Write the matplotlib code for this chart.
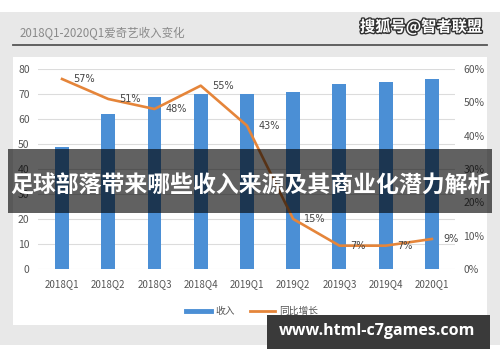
import matplotlib
matplotlib.use("Agg")
import matplotlib.pyplot as plt
import matplotlib.patheffects as pe
from matplotlib.patches import Rectangle
from matplotlib.lines import Line2D
import numpy as np

plt.rcParams['font.family'] = ['Noto Sans CJK SC', 'DejaVu Sans']

# data
quarters = ['2018Q1', '2018Q2', '2018Q3', '2018Q4', '2019Q1',
            '2019Q2', '2019Q3', '2019Q4', '2020Q1']
revenue = [49, 62, 69, 70, 70, 71, 74, 75, 76]
growth = [57, 51, 48, 55, 43, 15, 7, 7, 9]
growth_labels = ['57%', '51%', '48%', '55%', '43%', '15%', '7%', '7%', '9%']
left_ticks = [0, 10, 20, 30, 40, 50, 60, 70, 80]
right_ticks = [0, 10, 20, 30, 40, 50, 60]

W, H = 500, 362
fig = plt.figure(figsize=(5, 3.62), dpi=100)
fig.patch.set_facecolor('white')

def fx(x):
    return x / W

def fy(y):
    return 1 - y / H

# screenshot background: gray frame, white chart panel
fig.patches.append(Rectangle((0, fy(345)), 1, (345 - 12) / H, transform=fig.transFigure,
                             facecolor='#e8e8e8', edgecolor='none', zorder=-10))
fig.patches.append(Rectangle((fx(13), fy(325)), (487 - 13) / W, (325 - 57) / H,
                             transform=fig.transFigure, facecolor='white',
                             edgecolor='none', zorder=-9))
fig.lines.append(Line2D([fx(13), fx(487)], [fy(45), fy(45)], transform=fig.transFigure,
                        color='#555555', lw=1.3, zorder=-8))
fig.text(fx(20), fy(33), '2018Q1-2020Q1爱奇艺收入变化', fontsize=8.3, color='#8a8a8a',
         ha='left', va='center')

ax = fig.add_axes([fx(38), fy(269), (455 - 38) / W, 200 / H])
ax.set_facecolor('none')
x = np.arange(len(quarters))
ax.bar(x, revenue, width=0.3, color='#4b8fd5', zorder=2)
ax.set_xlim(-0.52, 8.5)
ax.set_ylim(0, 80)
ax.set_yticks(left_ticks)
ax.set_xticks(x)
ax.set_xticklabels(quarters)
ax.grid(axis='y', color='#dcdcdc', lw=0.8, zorder=0)
ax.tick_params(axis='y', length=0, pad=6, labelsize=7.5, labelcolor='#555555')
ax.tick_params(axis='x', length=0, pad=7, labelsize=7, labelcolor='#555555')
for s in ax.spines.values():
    s.set_visible(False)

ax2 = ax.twinx()
ax2.plot(x, growth, color='#e5853a', lw=1.9, zorder=3)
for xi, g, lab in zip(x, growth, growth_labels):
    ax2.annotate(lab, (xi, g), xytext=(8, 0), textcoords='offset points',
                 ha='left', va='center', fontsize=7, color='#444444',
                 family='DejaVu Sans')
ax2.set_ylim(0, 60)
ax2.set_yticks(right_ticks)
ax2.set_yticklabels([f'{t}%' for t in right_ticks])
ax2.tick_params(axis='y', length=0, pad=6, labelsize=7.5, labelcolor='#555555')
for s in ax2.spines.values():
    s.set_visible(False)

handles = [Line2D([], [], color='#4b8fd5', lw=3.5), Line2D([], [], color='#e5853a', lw=2)]
fig.legend(handles, ['收入', '同比增长'], loc='center', bbox_to_anchor=(fx(252), fy(311)),
           ncol=2, frameon=False, fontsize=7, handlelength=2.6, columnspacing=1.6,
           handletextpad=0.4, labelcolor='#555555')

# overlays from the screenshot
fig.patches.append(Rectangle((fx(8), fy(213)), (492 - 8) / W, (213 - 149) / H,
                             transform=fig.transFigure, facecolor='black', alpha=0.62,
                             edgecolor='none', zorder=10))
fig.text(0.5, fy(186), '足球部落带来哪些收入来源及其商业化潜力解析', fontsize=16.5,
         fontweight='bold', color='white', ha='center', va='center', zorder=11)

fig.patches.append(Rectangle((fx(267), fy(349)), (490 - 267) / W, (349 - 315) / H,
                             transform=fig.transFigure, facecolor='#3a3a3a',
                             edgecolor='none', zorder=10))
fig.text(fx(377), fy(331), 'www.html-c7games.com', fontsize=11.5, fontweight='bold',
         color='white', ha='center', va='center', family='Open Sans', zorder=11)

fig.text(fx(421), fy(27), '搜狐号@智者联盟', fontsize=11, fontweight='bold', color='white',
         ha='center', va='center', zorder=11,
         path_effects=[pe.withStroke(linewidth=2, foreground='#333333')])

fig.savefig('out.png', dpi=100)
